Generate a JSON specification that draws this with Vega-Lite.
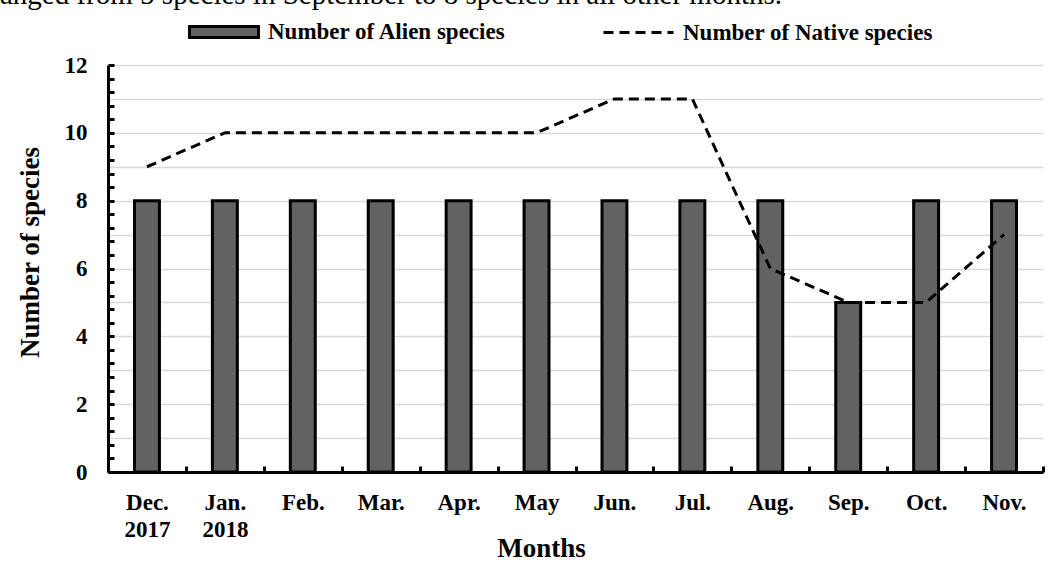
{
  "$schema": "https://vega.github.io/schema/vega-lite/v6.json",
  "autosize": "none",
  "width": 935,
  "height": 407,
  "padding": {"left": 108, "top": 65, "right": 16, "bottom": 93},
  "background": "white",
  "title": {
    "text": "anged from 5 species in September to 8 species in all other months.",
    "anchor": "start",
    "frame": "group",
    "font": "Liberation Serif",
    "fontSize": 29,
    "fontWeight": "normal",
    "color": "black",
    "baseline": "alphabetic",
    "offset": 0,
    "dx": -108,
    "dy": 37
  },
  "config": {
    "view": {"stroke": null},
    "font": "Liberation Serif",
    "axis": {
      "labelFont": "Liberation Serif",
      "labelFontWeight": "bold",
      "labelFontSize": 23,
      "labelColor": "black",
      "titleFont": "Liberation Serif",
      "titleFontWeight": "bold",
      "titleFontSize": 27,
      "titleColor": "black",
      "domainColor": "black",
      "domainWidth": 3,
      "tickColor": "black",
      "tickWidth": 3
    },
    "legend": {
      "labelFont": "Liberation Serif",
      "labelFontWeight": "bold",
      "labelFontSize": 23,
      "labelColor": "black",
      "labelLimit": 0,
      "padding": 0
    }
  },
  "data": {
    "values": [
      {"month": "Dec.|2017", "alien": 8, "native": 9},
      {"month": "Jan.|2018", "alien": 8, "native": 10},
      {"month": "Feb.", "alien": 8, "native": 10},
      {"month": "Mar.", "alien": 8, "native": 10},
      {"month": "Apr.", "alien": 8, "native": 10},
      {"month": "May", "alien": 8, "native": 10},
      {"month": "Jun.", "alien": 8, "native": 11},
      {"month": "Jul.", "alien": 8, "native": 11},
      {"month": "Aug.", "alien": 8, "native": 6},
      {"month": "Sep.", "alien": 5, "native": 5},
      {"month": "Oct.", "alien": 8, "native": 5},
      {"month": "Nov.", "alien": 8, "native": 7}
    ]
  },
  "encoding": {
    "x": {
      "field": "month",
      "type": "nominal",
      "sort": null,
      "scale": {"paddingInner": 0, "paddingOuter": 0},
      "axis": {
        "title": "Months",
        "labelAngle": 0,
        "labelExpr": "datum.value ? split(datum.value, '|') : ''",
        "labelBaseline": "top",
        "labelPadding": 25,
        "labelLineHeight": 27,
        "tickBand": "extent",
        "tickSize": -6,
        "titleX": 433,
        "titleY": 84,
        "titleBaseline": "alphabetic",
        "titleAnchor": null,
        "zindex": 2
      }
    }
  },
  "resolve": {"axis": {"y": "independent"}},
  "layer": [
    {
      "mark": {"type": "bar", "width": {"band": 0.32}, "stroke": "black", "strokeWidth": 3},
      "encoding": {
        "y": {
          "field": "alien",
          "type": "quantitative",
          "scale": {"domain": [0, 12], "nice": false},
          "axis": {
            "orient": "left",
            "title": "Number of species",
            "values": [0, 0.4, 0.8, 1.2, 1.6, 2, 2.4, 2.8, 3.2, 3.6, 4, 4.4, 4.8, 5.2, 5.6, 6, 6.4, 6.8, 7.2, 7.6, 8, 8.4, 8.8, 9.2, 9.6, 10, 10.4, 10.8, 11.2, 11.6, 12],
            "labelExpr": "abs(datum.value - round(datum.value / 2) * 2) < 0.01 ? format(datum.value, 'd') : ''",
            "labelOverlap": false,
            "labelPadding": 27,
            "labelBaseline": "middle",
            "grid": false,
            "tickSize": -6,
            "titleX": -70,
            "titleY": 187,
            "titleAngle": -90,
            "titleAlign": "center",
            "titleBaseline": "alphabetic",
            "zindex": 2
          }
        },
        "fill": {
          "datum": "Number of Alien species",
          "type": "nominal",
          "scale": {"range": ["#626262"]},
          "legend": {
            "title": null,
            "orient": "none",
            "legendX": 80,
            "legendY": -69,
            "symbolType": "M-1,-0.16H1V0.16H-1Z",
            "symbolSize": 4761,
            "symbolStrokeColor": "black",
            "symbolStrokeWidth": 3,
            "symbolOpacity": 1,
            "labelOffset": 8
          }
        }
      }
    },
    {
      "mark": {"type": "line", "color": "black", "strokeWidth": 3},
      "encoding": {
        "y": {
          "field": "native",
          "type": "quantitative",
          "axis": {
            "orient": "left",
            "title": null,
            "values": [1, 2, 3, 4, 5, 6, 7, 8, 9, 10, 11, 12],
            "labels": false,
            "ticks": false,
            "domain": false,
            "grid": true,
            "gridColor": "#d9d9d9",
            "gridWidth": 1.5,
            "zindex": 0
          }
        },
        "strokeDash": {
          "datum": "Number of Native species",
          "type": "nominal",
          "scale": {"range": [[10, 6]]},
          "legend": {
            "title": null,
            "orient": "none",
            "legendX": 494,
            "legendY": -69,
            "symbolType": "stroke",
            "symbolSize": 4900,
            "symbolStrokeColor": "black",
            "symbolStrokeWidth": 3,
            "labelOffset": 8
          }
        }
      }
    }
  ]
}
